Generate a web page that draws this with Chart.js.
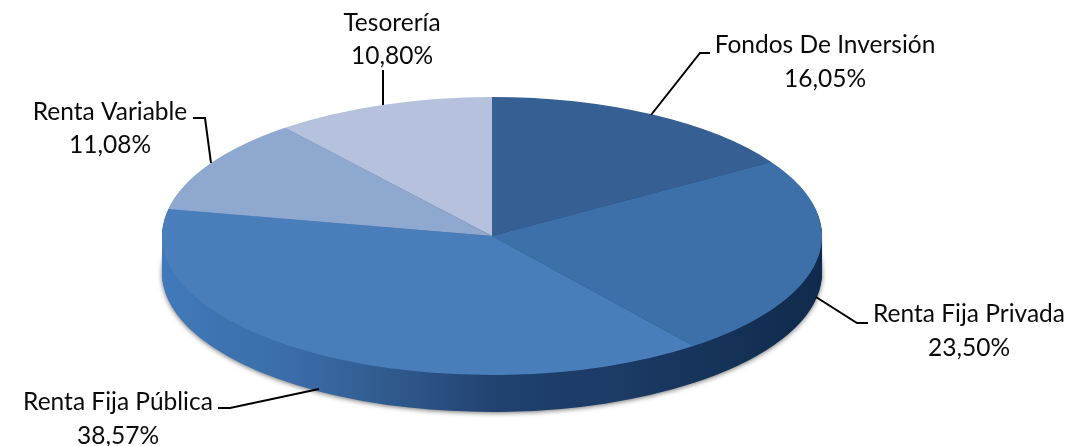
<!DOCTYPE html>
<html><head><meta charset="utf-8">
<script src="https://cdn.jsdelivr.net/npm/chart.js@4"></script>
<style>html,body{margin:0;padding:0;background:#fff;overflow:hidden}canvas{display:block}</style>
</head><body><canvas id="c" width="1071" height="446"></canvas>
<script>
const categories = ['Fondos De Inversión','Renta Fija Privada','Renta Fija Pública','Renta Variable','Tesorería'];
const shares = [16.05, 23.50, 38.57, 11.08, 10.80];
const shareLabels = ['16,05%','23,50%','38,57%','11,08%','10,80%'];
const sliceColors = ['#365f93','#3d70a9','#4a7ebb','#8fa8d0','#b5c1dd'];

const RX = 330, RY = 139, DEPTH = 37;
const FONT = '24.5px Lato, Carlito, sans-serif';
const labels = [
  {x:825, y1:45,  y2:79,  line:[[651,115],[700,53],[710,53]]},
  {x:969, y1:314, y2:348, line:[[816,297],[857,323],[868,323]]},
  {x:118, y1:402, y2:436, line:[[319,389],[230,408],[218,408]]},
  {x:110, y1:112, y2:145, line:[[211,163],[205,118],[193,118]]},
  {x:392, y1:23,  y2:56,  line:[[383,105],[383,70]]}
];

const pie3d = {
  id:'pie3d',
  beforeDatasetDraw(chart, args){
    const ctx = chart.ctx, arcs = args.meta.data;
    const cx = arcs[0].x, cy = arcs[0].y, k = RY / RX;
    const side = ctx.createLinearGradient(cx-RX,0,cx+RX,0);
    side.addColorStop(0,'#4079ba');
    side.addColorStop(0.2,'#3b6ca8');
    side.addColorStop(0.37,'#2e5789');
    side.addColorStop(0.52,'#20406e');
    side.addColorStop(0.7,'#1b3a64');
    side.addColorStop(1,'#0f2a4c');
    const paint = (dy, fill) => {
      ctx.save();
      ctx.translate(cx, cy + dy);
      ctx.scale(1, k);
      ctx.translate(-cx, -cy);
      arcs.forEach(a => {
        const o = a.options;
        if (fill) a.options = Object.assign({}, o, {backgroundColor: fill, borderColor: fill});
        a.draw(ctx);
        a.options = o;
      });
      ctx.restore();
    };
    ctx.save();
    ctx.shadowColor = 'rgba(0,0,0,0.55)';
    ctx.shadowBlur = 5;
    ctx.shadowOffsetY = 1;
    paint(DEPTH, side);
    ctx.restore();
    for (let d = DEPTH - 1; d > 0; d--) paint(d, side);
    paint(0);
    return false;
  },
  afterDraw(chart){
    const ctx = chart.ctx;
    ctx.save();
    ctx.font = FONT; ctx.fillStyle = '#0a0a0a'; ctx.textAlign = 'center'; ctx.textBaseline = 'middle';
    ctx.strokeStyle = '#000'; ctx.lineWidth = 2;
    labels.forEach((l, i) => {
      ctx.fillText(categories[i], l.x, l.y1);
      ctx.fillText(shareLabels[i], l.x, l.y2);
      ctx.beginPath();
      l.line.forEach((p, j) => j ? ctx.lineTo(p[0], p[1]) : ctx.moveTo(p[0], p[1]));
      ctx.stroke();
    });
    ctx.restore();
  }
};

new Chart(document.getElementById('c'), {
  type:'pie',
  data:{labels:categories, datasets:[{data:shares, backgroundColor:sliceColors, borderWidth:0, radius:RX}]},
  options:{
    responsive:false, animation:false,
    layout:{padding:{left:0,right:87,top:26,bottom:0}},
    plugins:{legend:{display:false},tooltip:{enabled:false}}
  },
  plugins:[pie3d]
});
</script></body></html>
